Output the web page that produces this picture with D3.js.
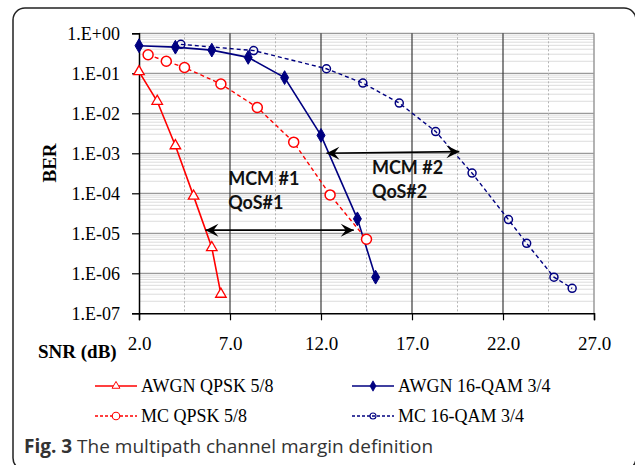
<!DOCTYPE html>
<html>
<head>
<meta charset="utf-8">
<script src="https://cdn.jsdelivr.net/npm/d3@7/dist/d3.min.js"></script>
<style>
  body { margin: 0; background: #fff; }
</style>
</head>
<body>
<svg id="chart" width="635" height="465"></svg>
<script>
// axis ticks
const snrTicks = [2, 7, 12, 17, 22, 27];
const berTicks = [1, 1e-1, 1e-2, 1e-3, 1e-4, 1e-5, 1e-6, 1e-7];
const berTickLabels = ['1.E+00', '1.E-01', '1.E-02', '1.E-03', '1.E-04', '1.E-05', '1.E-06', '1.E-07'];

// series
const awgnQpskSnr = [2.0, 3.0, 4.0, 5.0, 6.0, 6.5];
const awgnQpskBer = [0.11, 0.02, 1.55e-3, 8.5e-5, 4.4e-6, 3e-7];

const awgn16qamSnr = [2, 4, 6, 8, 10, 12, 14, 15];
const awgn16qamBer = [0.49, 0.45, 0.38, 0.25, 0.078, 2.8e-3, 2.3e-5, 8e-7];

const mcQpskSnr = [2.5, 3.5, 4.5, 6.5, 8.5, 10.5, 12.5, 14.5];
const mcQpskBer = [0.29, 0.2, 0.14, 0.054, 0.014, 1.9e-3, 9.1e-5, 7.1e-6];

const mc16qamSnr = [4.3, 8.3, 12.3, 14.3, 16.3, 18.3, 20.3, 22.3, 23.3, 24.8, 25.8];
const mc16qamBer = [0.53, 0.37, 0.13, 0.057, 0.018, 3.5e-3, 3.2e-4, 2.2e-5, 5.6e-6, 8e-7, 4.2e-7];

// margin arrows (snr from/to, ber from/to)
const arrowSnr = [[5.65, 13.8], [12.3, 19.6]];
const arrowBer = [[1.2e-5, 1.2e-5], [1.0e-3, 1.1e-3]];
const arrowLabels = [['MCM #1', 'QoS#1'], ['MCM #2', 'QoS#2']];
const arrowLabelAt = [[6.9, 1.6e-4], [14.8, 3e-4]];

const seriesNames = ['AWGN QPSK 5/8', 'AWGN 16-QAM 3/4', 'MC QPSK 5/8', 'MC 16-QAM 3/4'];

const series = [
  { name: seriesNames[0], snr: awgnQpskSnr, ber: awgnQpskBer, color: '#ff0000', dash: null, marker: 'triangle' },
  { name: seriesNames[1], snr: awgn16qamSnr, ber: awgn16qamBer, color: '#000080', dash: null, marker: 'diamond' },
  { name: seriesNames[2], snr: mcQpskSnr, ber: mcQpskBer, color: '#ff0000', dash: '4,3', marker: 'circle' },
  { name: seriesNames[3], snr: mc16qamSnr, ber: mc16qamBer, color: '#000080', dash: '4,3', marker: 'smallcircle' }
];

const svg = d3.select('#chart');

// figure frame
svg.append('rect')
  .attr('x', 13).attr('y', 8)
  .attr('width', 623).attr('height', 462)
  .attr('rx', 12)
  .attr('fill', 'none')
  .attr('stroke', '#222')
  .attr('stroke-width', 1.5);

const plotLeft = 139, plotRight = 594, plotTop = 33.3, plotBottom = 313.3;

const x = d3.scaleLinear().domain([2, 27]).range([plotLeft, plotRight]);
const y = d3.scaleLog().domain([1e-7, 1]).range([plotBottom, plotTop]);

const g = svg.append('g');

// minor horizontal grid
const minorBer = [];
for (let e = -7; e < 0; e++) {
  for (let m = 2; m <= 9; m++) minorBer.push(m * Math.pow(10, e));
}
g.selectAll('.hminor')
  .data(minorBer)
  .enter().append('line')
  .attr('x1', plotLeft).attr('x2', plotRight)
  .attr('y1', d => y(d)).attr('y2', d => y(d))
  .attr('stroke', '#dcdcdc')
  .attr('stroke-width', 1);

// major horizontal grid
g.selectAll('.hmajor')
  .data(berTicks.slice(0, -1))
  .enter().append('line')
  .attr('x1', plotLeft).attr('x2', plotRight)
  .attr('y1', d => y(d)).attr('y2', d => y(d))
  .attr('stroke', '#9a9a9a')
  .attr('stroke-width', 1.2);

// minor vertical grid (dashed)
g.selectAll('.vminor')
  .data([4.5, 9.5, 14.5, 19.5, 24.5])
  .enter().append('line')
  .attr('x1', d => x(d)).attr('x2', d => x(d))
  .attr('y1', plotTop).attr('y2', plotBottom)
  .attr('stroke', '#b5b5b5')
  .attr('stroke-dasharray', '2,2')
  .attr('stroke-width', 1);

// major vertical grid
g.selectAll('.vmajor')
  .data(snrTicks.slice(1, -1))
  .enter().append('line')
  .attr('x1', d => x(d)).attr('x2', d => x(d))
  .attr('y1', plotTop).attr('y2', plotBottom)
  .attr('stroke', '#3a3a3a')
  .attr('stroke-width', 1.2);

// right edge
g.append('line')
  .attr('x1', plotRight).attr('x2', plotRight)
  .attr('y1', plotTop).attr('y2', plotBottom)
  .attr('stroke', '#9a9a9a')
  .attr('stroke-width', 1.5);

// axes
const yAxis = g.append('g')
  .attr('transform', `translate(${plotLeft},0)`)
  .call(d3.axisLeft(y).tickValues(berTicks).tickFormat((d, i) => berTickLabels[i]).tickSize(7).tickPadding(12));

const xAxis = g.append('g')
  .attr('transform', `translate(0,${plotBottom})`)
  .call(d3.axisBottom(x).tickValues(snrTicks).tickFormat(d3.format('.1f')).tickSize(7).tickPadding(16));

[yAxis, xAxis].forEach(a => {
  a.select('.domain').attr('stroke', '#000').attr('stroke-width', 1.5);
  a.selectAll('.tick line').attr('stroke', '#000').attr('stroke-width', 1.2);
  a.selectAll('text')
    .style('font-family', '"Liberation Serif", "DejaVu Serif", serif')
    .style('fill', '#000');
});
yAxis.selectAll('text').style('font-size', '18px');
xAxis.selectAll('text').style('font-size', '19px');

// axis titles
svg.append('text')
  .attr('transform', 'translate(56,163) rotate(-90)')
  .attr('text-anchor', 'middle')
  .style('font-family', '"Liberation Serif", serif')
  .style('font-weight', 'bold')
  .style('font-size', '19px')
  .text('BER');

svg.append('text')
  .attr('x', 38).attr('y', 358)
  .style('font-family', '"Liberation Serif", serif')
  .style('font-weight', 'bold')
  .style('font-size', '19px')
  .text('SNR (dB)');

// markers
function drawMarker(sel, type, color) {
  if (type === 'triangle') {
    sel.append('path')
      .attr('d', d3.symbol(d3.symbolTriangle, 48)())
      .attr('fill', '#fff').attr('stroke', color).attr('stroke-width', 1.3);
  } else if (type === 'diamond') {
    sel.append('path')
      .attr('d', d3.symbol(d3.symbolDiamond, 55)())
      .attr('fill', color).attr('stroke', color).attr('stroke-width', 1);
  } else if (type === 'circle') {
    sel.append('circle').attr('r', 5)
      .attr('fill', '#fff').attr('stroke', color).attr('stroke-width', 1.5);
  } else {
    sel.append('circle').attr('r', 4)
      .attr('fill', 'none').attr('stroke', color).attr('stroke-width', 1.5);
  }
}

const line = d3.line()
  .x(d => x(d[0]))
  .y(d => y(d[1]));

series.forEach(s => {
  const pts = s.snr.map((v, i) => [v, s.ber[i]]);
  g.append('path')
    .datum(pts)
    .attr('d', line)
    .attr('fill', 'none')
    .attr('stroke', s.color)
    .attr('stroke-width', s.dash ? 1.4 : 1.6)
    .attr('stroke-dasharray', s.dash);

  g.selectAll(null)
    .data(pts)
    .enter().append('g')
    .attr('transform', d => `translate(${x(d[0])},${y(d[1])})`)
    .each(function() { drawMarker(d3.select(this), s.marker, s.color); });
});

// arrows
const defs = svg.append('defs');
defs.append('marker')
  .attr('id', 'head')
  .attr('viewBox', '-14 -7 16 14')
  .attr('refX', 0).attr('refY', 0)
  .attr('markerWidth', 16).attr('markerHeight', 14)
  .attr('markerUnits', 'userSpaceOnUse')
  .attr('orient', 'auto-start-reverse')
  .append('path')
  .attr('d', 'M0,0 L-13,-6.5 L-8,0 L-13,6.5 Z')
  .attr('fill', '#000');

arrowSnr.forEach((sx, i) => {
  g.append('line')
    .attr('x1', x(sx[0])).attr('y1', y(arrowBer[i][0]))
    .attr('x2', x(sx[1])).attr('y2', y(arrowBer[i][1]))
    .attr('stroke', '#000')
    .attr('stroke-width', 1.6)
    .attr('marker-start', 'url(#head)')
    .attr('marker-end', 'url(#head)');

  const t = g.append('text')
    .attr('x', x(arrowLabelAt[i][0]))
    .attr('y', y(arrowLabelAt[i][1]))
    .style('font-family', 'Lato, "Open Sans", sans-serif')
    .style('font-weight', 'bold')
    .style('font-size', '18px')
    .style('fill', '#111');
  arrowLabels[i].forEach((txt, j) => {
    t.append('tspan')
      .attr('x', x(arrowLabelAt[i][0]))
      .attr('dy', j === 0 ? 0 : 24)
      .text(txt);
  });
});

// legend
const legend = svg.append('g');
const legendCols = [95, 352];
const legendRows = [386, 416];
series.forEach((s, i) => {
  const lx = legendCols[i % 2];
  const ly = legendRows[Math.floor(i / 2)];
  const item = legend.append('g').attr('transform', `translate(${lx},${ly})`);
  item.append('line')
    .attr('x1', 0).attr('x2', 42)
    .attr('y1', 0).attr('y2', 0)
    .attr('stroke', s.color)
    .attr('stroke-width', s.dash ? 1.3 : 1.6)
    .attr('stroke-dasharray', s.dash ? '3,2' : null);
  const m = item.append('g').attr('transform', 'translate(21,0) scale(0.75)');
  drawMarker(m, s.marker, s.color);
  item.append('text')
    .attr('x', 46).attr('y', 6)
    .style('font-family', '"Liberation Serif", serif')
    .style('font-size', '18px')
    .style('fill', '#000')
    .text(s.name);
});

// caption
const cap = svg.append('text')
  .attr('x', 24).attr('y', 453)
  .style('font-family', '"Open Sans", "Noto Sans", sans-serif')
  .style('font-size', '19px')
  .style('fill', '#333');
cap.append('tspan').style('font-weight', 'bold').text('Fig. 3');
cap.append('tspan').text(' The multipath channel margin definition');
</script>
</body>
</html>
